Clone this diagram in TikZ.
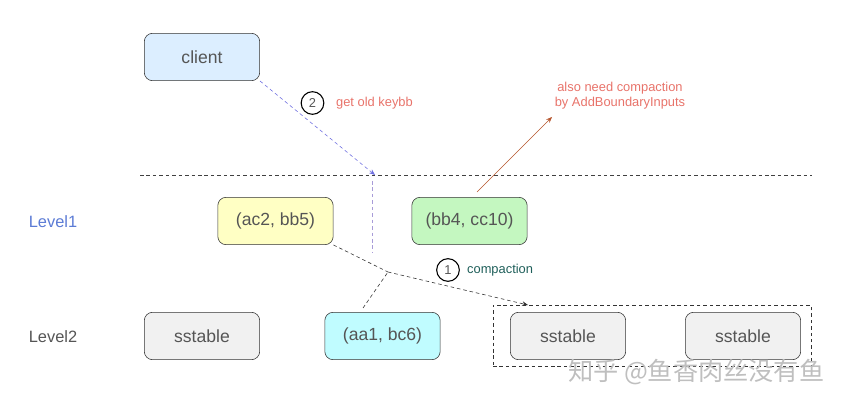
\documentclass[tikz,border=0pt]{standalone}
\usepackage{fontspec}
\setmainfont{Liberation Sans}
\newfontfamily\cjkfont{Noto Sans CJK SC}
\usetikzlibrary{calc,arrows.meta,positioning}
\definecolor{clientblue}{HTML}{DCEEFF}
\definecolor{lvlyellow}{HTML}{FFFFC4}
\definecolor{lvlgreen}{HTML}{C4F7C0}
\definecolor{lvlcyan}{HTML}{C0FCFF}
\definecolor{sstgray}{HTML}{F1F1F1}
\definecolor{textgray}{HTML}{555555}
\definecolor{levelblue}{HTML}{5B7BD5}
\definecolor{notered}{HTML}{E8736A}
\definecolor{notebrown}{HTML}{B5532A}
\definecolor{compteal}{HTML}{1F5F5A}
\definecolor{readblue}{HTML}{6F6FE0}
\definecolor{readpurple}{HTML}{A89CD8}

\begin{document}
\begin{tikzpicture}[x=0.03cm,y=-0.03cm,
    box/.style={draw=black!80,rounded corners=7pt,line width=0.5pt,
      minimum width=3.46cm,minimum height=1.42cm,
      text=textgray,font=\fontsize{15}{17}\selectfont},
    levellabel/.style={font=\fontsize{14}{16}\selectfont},
    note/.style={font=\fontsize{11}{13}\selectfont},
    stepnum/.style={circle,draw=black,line width=0.9pt,inner sep=0pt,
      minimum size=0.68cm,text=textgray,font=\fontsize{11}{13}\selectfont},
    dashline/.style={dashed,dash pattern=on 3pt off 2.5pt,line width=0.5pt}]
      \useasboundingbox (0,0) rectangle (842,404);
      % boxes
      \node[box,fill=clientblue] (client) at (202,57) {client};
      \node[box,fill=lvlyellow] (ac2) at (275.5,221) {(ac2, bb5)};
      \node[box,fill=lvlgreen] (bb4) at (469.5,221) {(bb4, cc10)};
      \node[box,fill=sstgray] (sst1) at (202,336) {sstable};
      \node[box,fill=lvlcyan] (aa1) at (382.5,336) {(aa1, bc6)};
      \node[box,fill=sstgray] (sst2) at (568,336) {sstable};
      \node[box,fill=sstgray] (sst3) at (743,336) {sstable};
      \node[draw=black!80,dashline,minimum width=9.54cm,minimum height=1.83cm] (grp) at (652,335.5) {};
      % level labels
      \node[levellabel,text=levelblue] (lvl1) at (53,222) {Level1};
      \node[levellabel,text=textgray] (lvl2) at (53,337) {Level2};
      % level separator
      \coordinate (sepL) at (140,175);
      \coordinate (sepR) at (812,175);
      \draw[dashline,black!75] (sepL) -- (sepR);
      % read path
      \coordinate (readtip) at (375,175);
      \coordinate (readtop) at (372,181);
      \coordinate (readbot) at (372,253);
      \draw[dashline,readblue,-{Stealth[length=5pt,width=4pt]}] (client.south east) -- (readtip);
      \draw[dashline,readpurple] (readtop) -- (readbot);
      \node[stepnum] (two) at (312.5,103) {2};
      \node[note,text=notered,anchor=west] (getold) at (332,103) {get old keybb};
      % boundary note
      \coordinate (bndfrom) at (477,192);
      \coordinate (bndto) at (552,117);
      \draw[notebrown,line width=0.5pt,-{Stealth[length=5pt,width=4pt]}] (bndfrom) -- (bndto);
      \node[note,text=notered,align=center] (also) at (620,96) {also need compaction\\by AddBoundaryInputs};
      % compaction
      \coordinate (join) at (388,272);
      \coordinate (grptip) at (528,305);
      \coordinate (aa1top) at (363,308);
      \draw[dashline,black!80] (ac2.south east) -- (join);
      \draw[dashline,black!80] (aa1top) -- (join);
      \draw[dashline,black!80,-{Stealth[length=5pt,width=4pt]}] (join) -- (grptip);
      \node[stepnum] (one) at (448,270) {1};
      \node[note,text=compteal,anchor=west] (comp) at (463,270) {compaction};
      % watermark
      \node[text=black!25,font=\cjkfont\fontsize{21.5}{23}\selectfont,anchor=west] (wm) at (564,372) {知乎 @鱼香肉丝没有鱼};
    \end{tikzpicture}
\end{document}
